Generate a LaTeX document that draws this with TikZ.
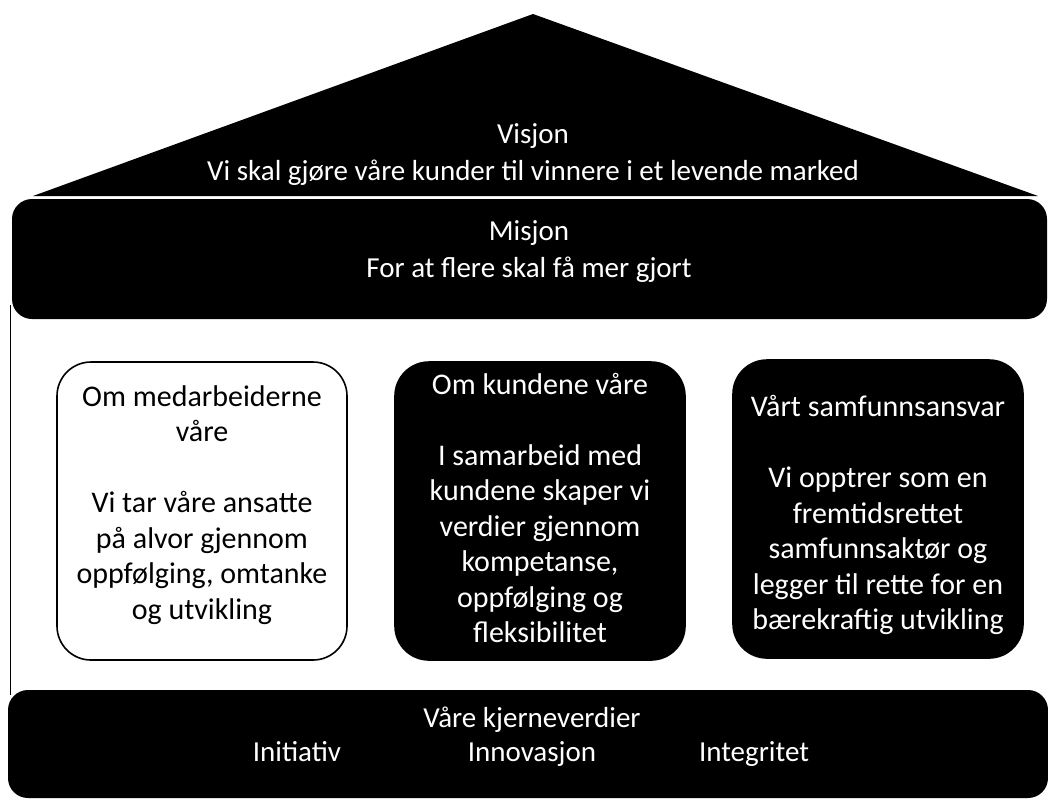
\documentclass[tikz,border=0pt]{standalone}
\usepackage{fontspec}
\setmainfont{Carlito}
\usetikzlibrary{positioning}

\begin{document}
\begin{tikzpicture}[x=0.5pt, y=-0.5pt,
	band/.style={fill=black, rounded corners=10pt, inner sep=0pt},
	bandtext/.style={text=white, align=center, font=\fontsize{14.5}{18.5}\selectfont},
	pillar/.style={draw=black, line width=0.8pt, rounded corners=17pt,
		minimum width=145pt, minimum height=149pt, inner sep=0pt},
	pillartext/.style={align=center, font=\fontsize{15}{17.75}\selectfont}]
	\useasboundingbox (0,0) rectangle (1048,800);
	% roof: vision
	\fill (33,196) -- (533,14) -- (1038,196) -- cycle;
	\node[bandtext] (visjon) at (533,155)
	{Visjon\\Vi skal gjøre våre kunder til vinnere i et levende marked};
	% mission band
	\node[band, minimum width=517.5pt, minimum height=60pt] (misjon) at (529.5,259) {};
	\node[bandtext] (misjontxt) at (529,252) {Misjon\\For at flere skal få mer gjort};
	% left wall
	\draw[line width=0.5pt] (10,305) -- (10,695);
	% the three pillars
	\node[pillar, fill=white] (medarb) at (202,511) {};
	\node[pillar, fill=black] (kunder) at (540,511) {};
	\node[pillar, fill=black] (samfunn) at (878,509) {};
	\node[pillartext] (medarbtxt) at (medarb.center) [yshift=3pt]
	{Om medarbeiderne\\våre\\[17.75pt]Vi tar våre ansatte\\på alvor gjennom\\oppfølging, omtanke\\og utvikling};
	\node[pillartext, text=white] (kundertxt) at (kunder.center) [yshift=1.5pt]
	{Om kundene våre\\[17.75pt]I samarbeid med\\kundene skaper vi\\verdier gjennom\\kompetanse,\\oppfølging og\\fleksibilitet};
	\node[pillartext, text=white] (samfunntxt) at (samfunn.center) [yshift=-3pt]
	{Vårt samfunnsansvar\\[17.75pt]Vi opptrer som en\\fremtidsrettet\\samfunnsaktør og\\legger til rette for en\\bærekraftig utvikling};
	% base: core values
	\node[band, minimum width=520pt, minimum height=54pt] (verdier) at (528,744) {};
	\node[bandtext, anchor=base] (verditxt) at (532,727) {Våre kjerneverdier};
	\node[bandtext, anchor=base] (initiativ) at (297,761) {Initiativ};
	\node[bandtext, anchor=base] (innovasjon) at (532,761) {Innovasjon};
	\node[bandtext, anchor=base] (integritet) at (754,761) {Integritet};
\end{tikzpicture}
\end{document}
